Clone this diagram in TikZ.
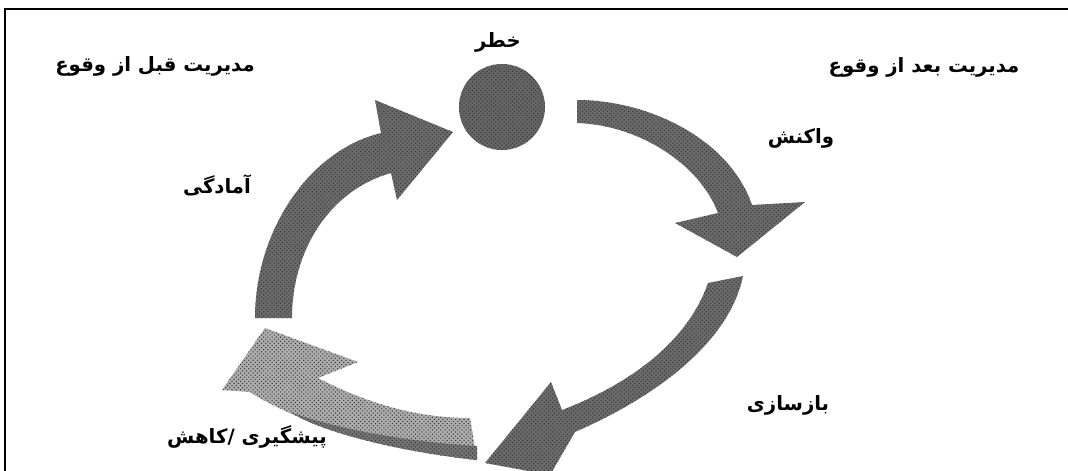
\documentclass[tikz,border=0pt]{standalone}
\usepackage{fontspec}
\newfontfamily\arabicfont[Script=Arabic]{DejaVu Sans}
\TeXXeTstate=1
\usetikzlibrary{patterns}

\begin{document}
\begin{tikzpicture}[x=0.025cm, y=-0.025cm,
  lbl/.style={font=\arabicfont\bfseries\fontsize{14}{16}\selectfont, inner sep=0pt},
  grain/.style={preaction={fill=#1}, pattern=crosshatch dots, pattern color=black!80},
  grain/.default=black!58]
  \useasboundingbox (0,0) rectangle (1068,470);

  % frame (right and bottom sides lie outside the picture)
  \draw[line width=1.4pt] (1080,9) -- (5,9) -- (5,480);

  % hazard ball
  \node[circle, grain=black!60, minimum size=2.15cm, inner sep=0pt] (ball) at (502,107) {};

  % response arrow
  \path[grain] (577,100) .. controls (650,100) and (730,140) .. (752,205)
    -- (805,202) -- (737,257) -- (675,223) -- (718,213)
    .. controls (700,165) and (640,125) .. (577,123) -- cycle;

  % rebuild arrow
  \path[grain] (708,283) -- (743,276) .. controls (730,340) and (660,395) .. (575,432)
    -- (550,475) -- (485,463) -- (551,382) -- (562,410)
    .. controls (640,380) and (690,335) .. (708,283) -- cycle;

  % prevention arrow, lighter with a dark lower rim
  \path[grain=black!32] (477,460) .. controls (400,452) and (300,425) .. (250,392)
    -- (222,390) -- (265,328) -- (358,362) -- (318,378)
    .. controls (370,405) and (420,418) .. (470,418) -- cycle;
  \path[grain=black!55] (477,460) .. controls (400,452) and (320,432) .. (290,412)
    .. controls (340,430) and (410,442) .. (477,446) -- cycle;

  % preparedness arrow
  \path[grain] (255,318) .. controls (255,230) and (310,150) .. (381,133)
    -- (375,100) -- (453,132) -- (397,200) -- (391,173)
    .. controls (330,190) and (292,250) .. (292,318) -- cycle;

  % labels
  \node[lbl] (hazard) at (498,42) {\beginR خطر\endR};
  \node[lbl] (before) at (155,66) {\beginR مدیریت قبل از وقوع\endR};
  \node[lbl] (after) at (924,67) {\beginR مدیریت بعد از وقوع\endR};
  \node[lbl] (response) at (801,138) {\beginR واکنش\endR};
  \node[lbl] (ready) at (217,185) {\beginR آمادگی\endR};
  \node[lbl] (rebuild) at (788,405) {\beginR بازسازی\endR};
  \node[lbl] (prevent) at (247,437) {\beginR پیشگیری /کاهش\endR};
\end{tikzpicture}
\end{document}
